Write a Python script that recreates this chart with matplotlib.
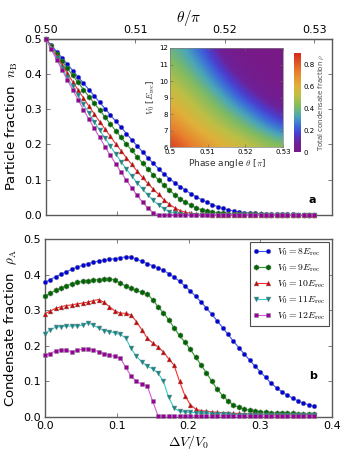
import matplotlib
matplotlib.use('Agg')
import matplotlib.pyplot as plt
from matplotlib.colors import LinearSegmentedColormap
import numpy as np

plt.rcParams['mathtext.fontset'] = 'cm'
plt.rcParams['xtick.direction'] = 'in'
plt.rcParams['ytick.direction'] = 'in'
plt.rcParams['xtick.major.size'] = 3
plt.rcParams['ytick.major.size'] = 3

# x grid: delta V / V0
dv = np.linspace(0, 0.375, 51)

labels = [r'$V_0=8E_{\rm rec}$', r'$V_0=9E_{\rm rec}$', r'$V_0=10E_{\rm rec}$',
          r'$V_0=11E_{\rm rec}$', r'$V_0=12E_{\rm rec}$']

# panel a: particle fraction n_B
nb_8 = [0.500, 0.482, 0.464, 0.446, 0.428, 0.410, 0.392, 0.374, 0.356, 0.338,
        0.320, 0.302, 0.284, 0.266, 0.249, 0.231, 0.213, 0.196, 0.179, 0.162,
        0.146, 0.131, 0.116, 0.103, 0.091, 0.080, 0.070, 0.060, 0.051, 0.043,
        0.036, 0.029, 0.023, 0.018, 0.014, 0.011, 0.008, 0.006, 0.005, 0.004,
        0.003, 0.002, 0.002, 0.001, 0.001, 0.001, 0.001, 0.000, 0.000, 0.000, 0.000]
nb_9 = [0.500, 0.479, 0.458, 0.437, 0.416, 0.396, 0.376, 0.356, 0.336, 0.317,
        0.298, 0.278, 0.258, 0.239, 0.220, 0.201, 0.183, 0.165, 0.147, 0.130,
        0.114, 0.099, 0.084, 0.070, 0.057, 0.046, 0.036, 0.027, 0.020, 0.014,
        0.010, 0.007, 0.005, 0.004, 0.003, 0.002, 0.002, 0.001, 0.001, 0.001,
        0.001, 0.000, 0.000, 0.000, 0.000, 0.000, 0.000, 0.000, 0.000, 0.000, 0.000]
nb_10 = [0.500, 0.475, 0.450, 0.426, 0.402, 0.378, 0.355, 0.332, 0.309, 0.287,
         0.265, 0.244, 0.223, 0.202, 0.182, 0.162, 0.143, 0.124, 0.106, 0.089,
         0.073, 0.058, 0.043, 0.030, 0.020, 0.012, 0.007, 0.004, 0.002, 0.001,
         0.001, 0.000, 0.000, 0.000, 0.000, 0.000, 0.000, 0.000, 0.000, 0.000,
         0.000, 0.000, 0.000, 0.000, 0.000, 0.000, 0.000, 0.000, 0.000, 0.000, 0.000]
nb_11 = [0.500, 0.472, 0.445, 0.418, 0.391, 0.365, 0.339, 0.314, 0.289, 0.265,
         0.241, 0.218, 0.195, 0.173, 0.151, 0.130, 0.110, 0.091, 0.073, 0.056,
         0.041, 0.028, 0.017, 0.009, 0.004, 0.001, 0.000, 0.000, 0.000, 0.000,
         0.000, 0.000, 0.000, 0.000, 0.000, 0.000, 0.000, 0.000, 0.000, 0.000,
         0.000, 0.000, 0.000, 0.000, 0.000, 0.000, 0.000, 0.000, 0.000, 0.000, 0.000]
nb_12 = [0.500, 0.470, 0.441, 0.412, 0.383, 0.355, 0.327, 0.299, 0.272, 0.246,
         0.220, 0.194, 0.169, 0.145, 0.121, 0.098, 0.076, 0.055, 0.036, 0.019,
         0.006, 0.000, 0.000, 0.000, 0.000, 0.000, 0.000, 0.000, 0.000, 0.000,
         0.000, 0.000, 0.000, 0.000, 0.000, 0.000, 0.000, 0.000, 0.000, 0.000,
         0.000, 0.000, 0.000, 0.000, 0.000, 0.000, 0.000, 0.000, 0.000, 0.000, 0.000]

# panel b: condensate fraction rho_A
rho_8 = [0.378, 0.386, 0.394, 0.401, 0.408, 0.415, 0.421, 0.426, 0.431, 0.435,
         0.438, 0.441, 0.443, 0.445, 0.447, 0.450, 0.449, 0.444, 0.437, 0.431,
         0.425, 0.419, 0.412, 0.403, 0.393, 0.381, 0.368, 0.354, 0.339, 0.323,
         0.306, 0.288, 0.270, 0.251, 0.232, 0.213, 0.195, 0.177, 0.160, 0.143,
         0.127, 0.111, 0.095, 0.082, 0.071, 0.061, 0.053, 0.045, 0.039, 0.034, 0.030]
rho_9 = [0.340, 0.348, 0.356, 0.363, 0.369, 0.374, 0.378, 0.381, 0.383, 0.384,
         0.386, 0.388, 0.389, 0.384, 0.376, 0.368, 0.361, 0.356, 0.350, 0.345,
         0.330, 0.310, 0.293, 0.273, 0.250, 0.229, 0.210, 0.190, 0.168, 0.146,
         0.124, 0.100, 0.078, 0.060, 0.045, 0.034, 0.027, 0.022, 0.019, 0.016,
         0.014, 0.013, 0.012, 0.011, 0.011, 0.010, 0.010, 0.009, 0.009, 0.009, 0.009]
rho_10 = [0.290, 0.298, 0.305, 0.310, 0.313, 0.315, 0.318, 0.320, 0.323, 0.327,
          0.330, 0.322, 0.310, 0.298, 0.292, 0.291, 0.287, 0.268, 0.245, 0.222,
          0.208, 0.197, 0.183, 0.163, 0.145, 0.100, 0.060, 0.035, 0.022, 0.018,
          0.016, 0.014, 0.013, 0.012, 0.011, 0.010, 0.010, 0.009, 0.009, 0.008,
          0.008, 0.007, 0.007, 0.007, 0.007, 0.006, 0.006, 0.006, 0.006, 0.006, 0.006]
rho_11 = [0.234, 0.245, 0.252, 0.254, 0.255, 0.256, 0.256, 0.258, 0.265, 0.258,
          0.250, 0.243, 0.240, 0.236, 0.232, 0.222, 0.193, 0.170, 0.155, 0.143,
          0.135, 0.124, 0.100, 0.055, 0.025, 0.016, 0.014, 0.013, 0.012, 0.011,
          0.010, 0.009, 0.009, 0.008, 0.008, 0.007, 0.007, 0.006, 0.006, 0.006,
          0.006, 0.006, 0.005, 0.005, 0.005, 0.005, 0.005, 0.005, 0.005, 0.005, 0.005]
rho_12 = [0.174, 0.178, 0.186, 0.188, 0.187, 0.184, 0.187, 0.191, 0.191, 0.188,
          0.184, 0.178, 0.174, 0.170, 0.166, 0.140, 0.115, 0.100, 0.092, 0.088,
          0.045, 0.004, 0.003, 0.003, 0.003, 0.003, 0.003, 0.003, 0.003, 0.003,
          0.003, 0.003, 0.003, 0.003, 0.003, 0.003, 0.003, 0.003, 0.003, 0.003,
          0.003, 0.003, 0.003, 0.003, 0.003, 0.003, 0.003, 0.003, 0.003, 0.003, 0.003]

# inset: total condensate fraction vs theta and V0
theta_grid = [0.500, 0.505, 0.510, 0.515, 0.520, 0.525, 0.530]
v0_grid = [6, 7, 8, 9, 10, 11, 12]
rho_total = [
    [0.88, 0.77, 0.68, 0.61, 0.55, 0.49, 0.45],
    [0.77, 0.65, 0.57, 0.50, 0.43, 0.35, 0.25],
    [0.66, 0.57, 0.49, 0.41, 0.32, 0.20, 0.10],
    [0.58, 0.50, 0.42, 0.31, 0.18, 0.07, 0.01],
    [0.51, 0.43, 0.33, 0.20, 0.06, 0.01, 0.00],
    [0.44, 0.36, 0.25, 0.08, 0.01, 0.00, 0.00],
    [0.38, 0.30, 0.15, 0.02, 0.00, 0.00, 0.00],
]

nb_series = [nb_8, nb_9, nb_10, nb_11, nb_12]
rho_series = [rho_8, rho_9, rho_10, rho_11, rho_12]
line_colors = ['#3355ff', '#2a9a2a', '#ff2a2a', '#33cccc', '#dd55dd']
marker_colors = ['#0000dd', '#006600', '#cc0000', '#118888', '#990099']
markers = ['o', 'h', '^', 'v', 's']
msizes = [3.3, 4.0, 3.5, 3.5, 3.3]

spine_col = '0.35'

fig = plt.figure(figsize=(3.53, 4.57), dpi=100)
ax1 = fig.add_axes([0.130, 0.530, 0.811, 0.385])
ax2 = fig.add_axes([0.127, 0.0875, 0.814, 0.3895])


def style(ax):
    for s in ax.spines.values():
        s.set_color(spine_col)
        s.set_linewidth(1.0)
    ax.tick_params(which='both', top=True, right=True, labelsize=8, color='0.4',
                   width=0.6, pad=3)


for ys, lc, mc, mk, ms in zip(nb_series, line_colors, marker_colors, markers, msizes):
    ax1.plot(dv, ys, color=lc, lw=0.8, marker=mk, ms=ms, mfc=mc,
             mec=(0.5, 0.5, 0.5, 0.6), mew=0.5, clip_on=False, zorder=3)
ax1.set_xlim(0, 0.4)
ax1.set_ylim(0, 0.5)
ax1.set_yticks([0.0, 0.1, 0.2, 0.3, 0.4, 0.5])
ax1.set_xticks([0.0, 0.1, 0.2, 0.3, 0.4])
ax1.tick_params(labelbottom=False)
style(ax1)
ax1.tick_params(top=False)
ax1.set_ylabel(r'Particle fraction  $n_{\rm B}$', fontsize=9.5, labelpad=3)
ax1.text(0.93, 0.085, 'a', transform=ax1.transAxes, fontsize=8,
         fontweight='bold', ha='center', va='center')

secax = ax1.secondary_xaxis('top', functions=(lambda x: 0.5 + 0.08 * x,
                                               lambda t: (t - 0.5) / 0.08))
secax.set_xticks([0.50, 0.51, 0.52, 0.53])
secax.set_xticklabels(['0.50', '0.51', '0.52', '0.53'])
secax.tick_params(direction='in', labelsize=8, color='0.4', width=0.6, length=3, pad=3)
secax.set_xlabel(r'$\theta/\pi$', fontsize=11, labelpad=2)

for ys, lc, mc, mk, ms, lab in zip(rho_series, line_colors, marker_colors,
                                   markers, msizes, labels):
    ax2.plot(dv, ys, color=lc, lw=0.8, marker=mk, ms=ms, mfc=mc,
             mec=(0.5, 0.5, 0.5, 0.6), mew=0.5, clip_on=False, zorder=3, label=lab)
ax2.set_xlim(0, 0.4)
ax2.set_ylim(0, 0.5)
ax2.set_xticks([0.0, 0.1, 0.2, 0.3, 0.4])
ax2.set_yticks([0.0, 0.1, 0.2, 0.3, 0.4, 0.5])
style(ax2)
ax2.set_xlabel(r'$\Delta V/V_0$', fontsize=10, labelpad=1)
ax2.set_ylabel(r'Condensate fraction  $\rho_{\rm A}$', fontsize=9.5, labelpad=3)
ax2.text(0.934, 0.23, 'b', transform=ax2.transAxes, fontsize=8,
         fontweight='bold', ha='center', va='center')
leg = ax2.legend(loc='upper right', fontsize=7, numpoints=2, fancybox=False,
                 framealpha=1, edgecolor='0.3', borderaxespad=0.35,
                 labelspacing=0.45, handlelength=1.8, borderpad=0.4,
                 handletextpad=0.6)
leg.get_frame().set_linewidth(0.8)

# inset heat map
cmap = LinearSegmentedColormap.from_list('rb', [
    (0.0, '#771a88'), (0.10, '#6d2199'), (0.19, '#4a3fd0'), (0.27, '#3b6fd8'),
    (0.36, '#4aa6b8'), (0.46, '#7fbb62'), (0.57, '#bdbf45'), (0.67, '#e0b03a'),
    (0.81, '#e8802e'), (1.0, '#d6281c')])
axi = fig.add_axes([0.482, 0.678, 0.320, 0.217])
im = axi.imshow(np.array(rho_total), origin='lower', aspect='auto', cmap=cmap,
                vmin=0, vmax=0.9, interpolation='bicubic',
                extent=(0.4975, 0.5325, 5.5, 12.5))
axi.set_xlim(0.5, 0.53)
axi.set_ylim(6, 12)
axi.set_xticks(theta_grid[::2])
axi.set_xticklabels(['0.5', '0.51', '0.52', '0.53'])
axi.set_yticks(v0_grid)
axi.tick_params(which='both', top=True, right=True, labelsize=5, length=2,
                width=0.4, pad=1.5, color='0.4')
for s in axi.spines.values():
    s.set_color('0.5')
    s.set_linewidth(0.5)
axi.set_xlabel(r'Phase angle $\theta$ [$\pi$]', fontsize=6.5, labelpad=1.5, color='0.2')
axi.set_ylabel(r'$V_0$ [$E_{\rm rec}$]', fontsize=6.5, labelpad=1.5, color='0.2')

cax = fig.add_axes([0.833, 0.667, 0.020, 0.217])
cb = fig.colorbar(im, cax=cax, ticks=[0, 0.2, 0.4, 0.6, 0.8])
cb.ax.set_yticklabels(['0', '0.2', '0.4', '0.6', '0.8'])
cb.ax.tick_params(labelsize=5, length=0, pad=1.5)
cb.outline.set_visible(False)
cb.set_label(r'Total condensate fraction $\rho$', fontsize=5, labelpad=2, color='0.3')

fig.savefig('out.png', dpi=100)
